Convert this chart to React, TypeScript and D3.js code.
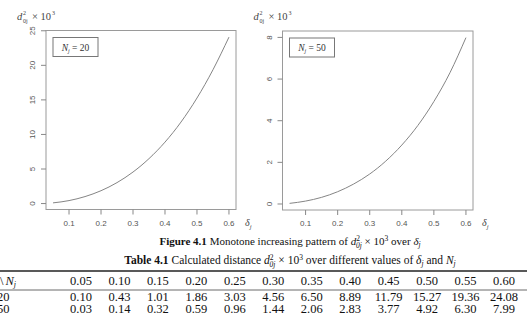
import React, { useRef, useEffect } from 'react';
import * as d3 from 'd3';

// delta_j values (x) and the calculated distances d^2_0j x 10^3
const deltas = [0.05, 0.10, 0.15, 0.20, 0.25, 0.30, 0.35, 0.40, 0.45, 0.50, 0.55, 0.60];
const deltaLabels = ['0.05', '0.10', '0.15', '0.20', '0.25', '0.30', '0.35', '0.40', '0.45', '0.50', '0.55', '0.60'];
const dist20 = [0.10, 0.43, 1.01, 1.86, 3.03, 4.56, 6.50, 8.89, 11.79, 15.27, 19.36, 24.08];
const dist50 = [0.03, 0.14, 0.32, 0.59, 0.96, 1.44, 2.06, 2.83, 3.77, 4.92, 6.30, 7.99];
const dist20Labels = ['0.10', '0.43', '1.01', '1.86', '3.03', '4.56', '6.50', '8.89', '11.79', '15.27', '19.36', '24.08'];
const dist50Labels = ['0.03', '0.14', '0.32', '0.59', '0.96', '1.44', '2.06', '2.83', '3.77', '4.92', '6.30', '7.99'];
const xTicks = [0.1, 0.2, 0.3, 0.4, 0.5, 0.6];
const yTicks20 = [0, 5, 10, 15, 20, 25];
const yTicks50 = [0, 2, 4, 6, 8];

const SERIF = '"Liberation Serif", "DejaVu Serif", serif';
const SANS = '"Liberation Sans", Arial, sans-serif';

// R style axis range: data range padded by 4% on each side
const rExtent = (vals: number[]) => {
  const lo = d3.min(vals) as number;
  const hi = d3.max(vals) as number;
  const pad = (hi - lo) * 0.04;
  return [lo - pad, hi + pad];
};

function drawPanel(svg: any, values: number[], yTicks: number[], n: string, box: any) {
  const g = svg.append('g');
  const x = d3.scaleLinear().domain(rExtent(deltas)).range([box.left, box.right]);
  const y = d3.scaleLinear().domain(rExtent(values)).range([box.bottom, box.top]);

  // plot frame
  g.append('rect')
    .attr('x', box.left).attr('y', box.top)
    .attr('width', box.right - box.left).attr('height', box.bottom - box.top)
    .attr('fill', 'none').attr('stroke', '#9a9a9a').attr('stroke-width', 1);

  // y ticks
  g.selectAll('line.yt').data(yTicks).join('line')
    .attr('x1', box.left).attr('x2', box.left - 5)
    .attr('y1', (d: number) => y(d)).attr('y2', (d: number) => y(d))
    .attr('stroke', '#888');
  g.selectAll('text.yt').data(yTicks).join('text')
    .attr('transform', (d: number) => `translate(${box.left - 11},${y(d)}) rotate(-90)`)
    .attr('text-anchor', 'middle')
    .attr('font-family', SANS).attr('font-size', 8).attr('fill', '#555')
    .text((d: number) => d);

  // x ticks
  g.selectAll('line.xt').data(xTicks).join('line')
    .attr('x1', (d: number) => x(d)).attr('x2', (d: number) => x(d))
    .attr('y1', box.bottom).attr('y2', box.bottom + 5)
    .attr('stroke', '#888');
  g.selectAll('text.xt').data(xTicks).join('text')
    .attr('x', (d: number) => x(d)).attr('y', box.bottom + 16)
    .attr('text-anchor', 'middle')
    .attr('font-family', SANS).attr('font-size', 8).attr('fill', '#555')
    .text((d: number) => d3.format('.1f')(d));

  // curve
  const line = d3.line<number>()
    .x((_d, i) => x(deltas[i]))
    .y((d) => y(d))
    .curve(d3.curveMonotoneX);
  g.append('path').attr('d', line(values))
    .attr('fill', 'none').attr('stroke', '#858585').attr('stroke-width', 1);

  // legend box
  g.append('rect')
    .attr('x', box.left + 7).attr('y', box.top + 7)
    .attr('width', 45).attr('height', 19)
    .attr('fill', 'white').attr('stroke', '#777');
  const lt = g.append('text')
    .attr('x', box.left + 29.5).attr('y', box.top + 20)
    .attr('text-anchor', 'middle')
    .attr('font-family', SERIF).attr('font-size', 9.5).attr('fill', '#333');
  lt.append('tspan').attr('font-style', 'italic').text('N');
  lt.append('tspan').attr('font-style', 'italic').attr('font-size', 6).attr('dy', 2).text('j');
  lt.append('tspan').attr('dy', -2).text(' = ' + n);

  // y axis title d^2_0j x 10^3
  const tx = box.left - 29;
  const ty = box.top - 11;
  const tt = g.append('g').attr('font-family', SERIF).attr('fill', '#444');
  tt.append('text').attr('x', tx).attr('y', ty).attr('font-style', 'italic').attr('font-size', 10.5).text('d');
  tt.append('text').attr('x', tx + 6).attr('y', ty - 5).attr('font-size', 6).text('2');
  tt.append('text').attr('x', tx + 6).attr('y', ty + 3).attr('font-size', 6).text('0j');
  tt.append('text').attr('x', tx + 15).attr('y', ty).attr('font-size', 10.5).text('\u00d7 10');
  tt.append('text').attr('x', tx + 35).attr('y', ty - 5).attr('font-size', 6).text('3');

  // delta_j axis title
  const dt = g.append('text')
    .attr('x', box.right + 9).attr('y', box.bottom + 16)
    .attr('font-family', SERIF).attr('font-size', 10).attr('fill', '#444');
  dt.append('tspan').attr('font-style', 'italic').text('\u03b4');
  dt.append('tspan').attr('font-style', 'italic').attr('font-size', 6.5).attr('dy', 3).text('j');
}

function App() {
  const svgRef = useRef<SVGSVGElement>(null);

  useEffect(() => {
    const svg = d3.select(svgRef.current);
    svg.selectAll('*').remove();

    drawPanel(svg, dist20, yTicks20, '20', { left: 46, right: 236, top: 30.5, bottom: 209.5 });
    drawPanel(svg, dist50, yTicks50, '50', { left: 282.5, right: 473, top: 31, bottom: 210 });

    // figure caption
    const fc = svg.append('text')
      .attr('x', 290).attr('y', 245)
      .attr('text-anchor', 'middle')
      .attr('font-family', SERIF).attr('font-size', 11).attr('fill', '#111');
    fc.append('tspan').attr('font-weight', 'bold').text('Figure 4.1');
    fc.append('tspan').text(' Monotone increasing pattern of ');
    fc.append('tspan').attr('font-style', 'italic').text('d');
    fc.append('tspan').attr('font-size', 7.5).attr('dy', -4).text('2');
    fc.append('tspan').attr('font-size', 7.5).attr('font-style', 'italic').attr('dx', -4).attr('dy', 7).text('0j');
    fc.append('tspan').attr('dy', -3).text(' \u00d7 10');
    fc.append('tspan').attr('font-size', 7.5).attr('dy', -4).text('3');
    fc.append('tspan').attr('dy', 4).text(' over ');
    fc.append('tspan').attr('font-style', 'italic').text('\u03b4');
    fc.append('tspan').attr('font-style', 'italic').attr('font-size', 7.5).attr('dy', 2).text('j');

    // table caption
    const tc = svg.append('text')
      .attr('x', 290).attr('y', 264)
      .attr('text-anchor', 'middle')
      .attr('font-family', SERIF).attr('font-size', 11.5).attr('fill', '#111');
    tc.append('tspan').attr('font-weight', 'bold').text('Table 4.1');
    tc.append('tspan').text(' Calculated distance ');
    tc.append('tspan').attr('font-style', 'italic').text('d');
    tc.append('tspan').attr('font-size', 7.5).attr('dy', -4).text('2');
    tc.append('tspan').attr('font-size', 7.5).attr('font-style', 'italic').attr('dx', -4).attr('dy', 7).text('0j');
    tc.append('tspan').attr('dy', -3).text(' \u00d7 10');
    tc.append('tspan').attr('font-size', 7.5).attr('dy', -4).text('3');
    tc.append('tspan').attr('dy', 4).text(' over different values of ');
    tc.append('tspan').attr('font-style', 'italic').text('\u03b4');
    tc.append('tspan').attr('font-style', 'italic').attr('font-size', 7.5).attr('dy', 2).text('j');
    tc.append('tspan').attr('dy', -2).text(' and ');
    tc.append('tspan').attr('font-style', 'italic').text('N');
    tc.append('tspan').attr('font-style', 'italic').attr('font-size', 7.5).attr('dy', 2).text('j');

    // table
    const col = d3.scalePoint<string>().domain(deltaLabels).range([81, 504]);
    const rowY = { head: 285, r20: 301, r50: 313 };
    const tbl = svg.append('g').attr('font-family', SERIF).attr('font-size', 12.5).attr('fill', '#111');

    tbl.append('line').attr('x1', 0).attr('x2', 527).attr('y1', 271).attr('y2', 271)
      .attr('stroke', '#222').attr('stroke-width', 1.3);
    tbl.append('line').attr('x1', 0).attr('x2', 527).attr('y1', 290).attr('y2', 290)
      .attr('stroke', '#444').attr('stroke-width', 0.8);

    // corner header, only "\N_j" is visible in the crop
    const hd = tbl.append('text').attr('x', 0).attr('y', rowY.head);
    hd.append('tspan').text('\\');
    hd.append('tspan').attr('font-style', 'italic').attr('dx', 2).text('N');
    hd.append('tspan').attr('font-style', 'italic').attr('font-size', 8).attr('dy', 2).text('j');

    tbl.selectAll('text.h').data(deltaLabels).join('text')
      .attr('x', (d: string) => col(d) as number).attr('y', rowY.head)
      .attr('text-anchor', 'middle').text((d: string) => d);

    tbl.append('text').attr('x', -3).attr('y', rowY.r20).text('20');
    tbl.append('text').attr('x', -3).attr('y', rowY.r50).text('50');

    tbl.selectAll('text.r20').data(dist20Labels).join('text')
      .attr('x', (_d: string, i: number) => col(deltaLabels[i]) as number).attr('y', rowY.r20)
      .attr('text-anchor', 'middle').text((d: string) => d);
    tbl.selectAll('text.r50').data(dist50Labels).join('text')
      .attr('x', (_d: string, i: number) => col(deltaLabels[i]) as number).attr('y', rowY.r50)
      .attr('text-anchor', 'middle').text((d: string) => d);
  }, []);

  return (
    <React.Fragment>
      <svg ref={svgRef} width={527} height={318}
        style={{ position: 'absolute', left: 0, top: 0, background: 'white' }}>
      </svg>
    </React.Fragment>
  );
}

export default App;
